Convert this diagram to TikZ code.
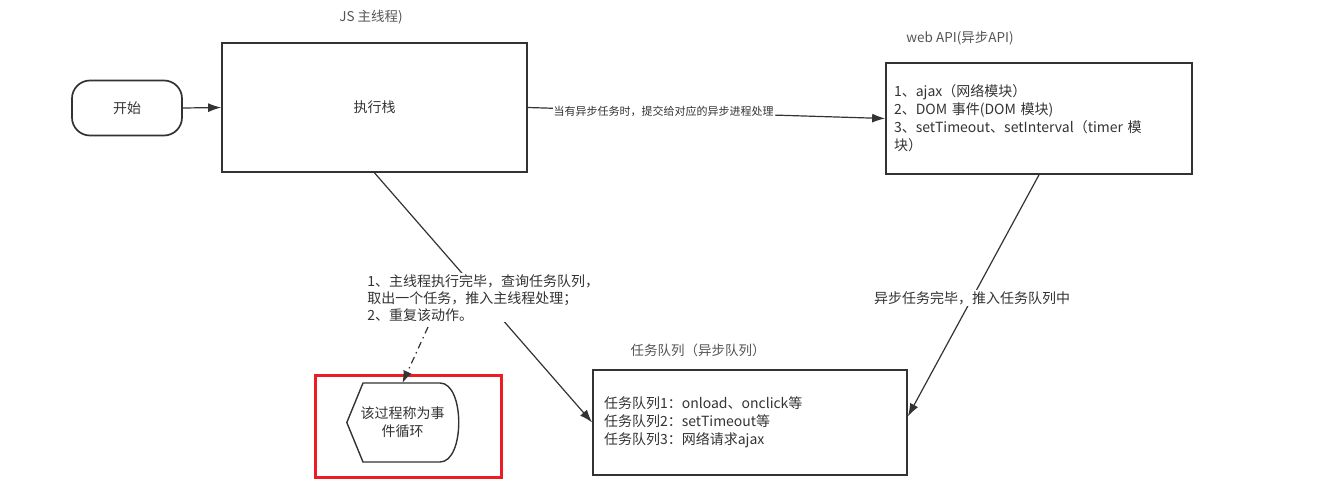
\documentclass[tikz,border=0pt]{standalone}
\usepackage{fontspec}
\setmainfont{Noto Sans CJK SC}
\usetikzlibrary{arrows.meta}
\definecolor{ink}{HTML}{333333}
\definecolor{lbl}{HTML}{555555}
\definecolor{redframe}{HTML}{ED1C24}
\tikzset{
  box/.style={draw=ink, line width=1.7pt, rectangle, text=ink},
  conn/.style={draw=ink, line width=1.2pt, -{Latex[length=13pt,width=9pt]}},
  dashconn/.style={draw=ink, line width=1.2pt, dash pattern=on 7pt off 4pt on 1.5pt off 4pt, -{Latex[length=12pt,width=9pt]}},
  title/.style={text=lbl, font=\fontsize{13.5}{15}\selectfont, inner sep=0pt},
  txt/.style={text=ink, font=\fontsize{14}{18}\selectfont},
  lab/.style={text=ink, fill=white, font=\fontsize{14}{17}\selectfont, inner sep=1pt},
}
\begin{document}
\begin{tikzpicture}[x=1pt, y=-1pt]
\useasboundingbox (0,0) rectangle (1319,495);

% nodes
\node[box, rounded corners=18pt, minimum width=110pt, minimum height=55pt, txt] (start) at (127,108) {开始};
\node[box, minimum width=305pt, minimum height=129pt, txt] (exec) at (374.5,107.5) {执行栈};
\node[title] (jstitle) at (371,17) {JS 主线程)};

\node[box, minimum width=306pt, minimum height=111pt, text width=290pt, inner xsep=8pt, align=left, txt] (api) at (1039,118.5)
  {1、ajax（网络模块）\\2、DOM 事件(DOM 模块)\\3、setTimeout、setInterval（timer 模\\块）};
\node[title] (apititle) at (960,38) {web API(异步API)};

\node[box, minimum width=314pt, minimum height=105pt, text width=292pt, inner xsep=11pt, align=left, txt] (queue) at (750,422.5)
  {任务队列1：onload、onclick等\\任务队列2：setTimeout等\\任务队列3：网络请求ajax};
\node[title] (queuetitle) at (698,350) {任务队列（异步队列）};

% event loop display shape
\node[minimum width=111pt, minimum height=79pt, inner sep=0pt, align=center, txt] (loop) at (402.5,422.5) {该过程称为事\\件循环};
\draw[ink, line width=1.4pt] (loop.west) -- (363,383) -- (440,383) .. controls (465,383) and (465,462) .. (440,462) -- (363,462) -- cycle;
\node[draw=redframe, line width=3pt, minimum width=186pt, minimum height=102pt, inner sep=0pt] (redbox) at (408,426) {};

% connectors
\draw[conn] (start.east) -- (exec.west);
\draw[conn] (exec.east) -- node[pos=0.38, fill=white, inner sep=1pt, text=ink, font=\fontsize{11}{13}\selectfont] (asynclbl) {当有异步任务时，提交给对应的异步进程处理} (api.west);
\draw[conn] (exec.south) -- node[pos=0.5, lab, align=left] (desc) {1、主线程执行完毕，查询任务队列，\\取出一个任务，推入主线程处理；\\2、重复该动作。} (queue.west);
\draw[conn] (api.south) -- node[pos=0.51, lab] (donelbl) {异步任务完毕，推入任务队列中} ([yshift=6pt]queue.east);
\coordinate (dstart) at (428,327);
\draw[dashconn] (dstart) -- (loop.north);
\end{tikzpicture}
\end{document}
